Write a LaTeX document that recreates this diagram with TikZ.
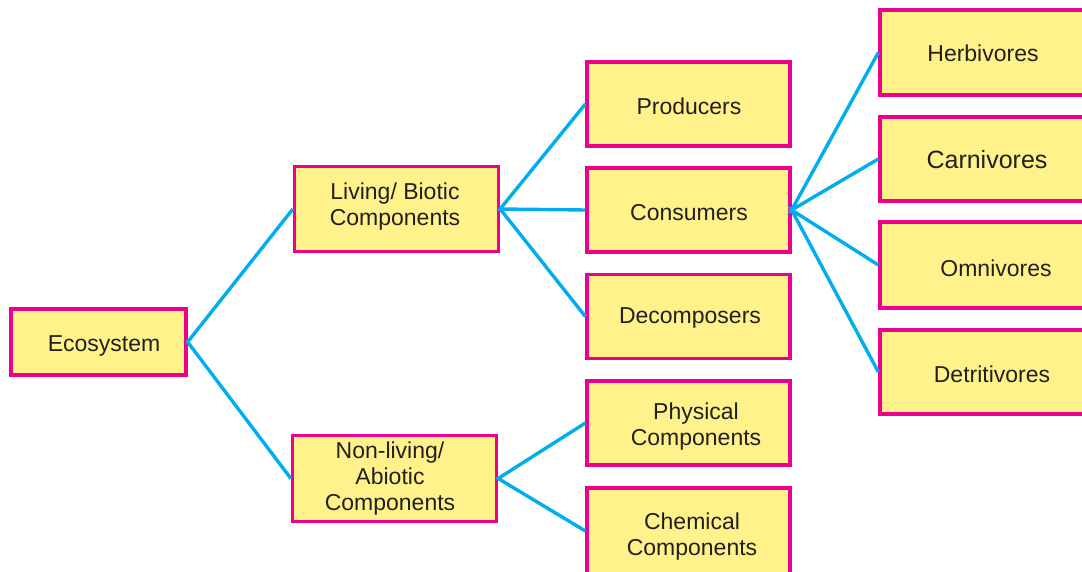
\documentclass[tikz,border=0pt]{standalone}
\usepackage{fontspec}
\setmainfont{Liberation Sans}
\definecolor{boxfill}{RGB}{255,242,138}
\definecolor{boxline}{RGB}{236,0,140}
\definecolor{wire}{RGB}{0,174,239}
\definecolor{txtc}{RGB}{35,31,32}
\tikzset{
  box/.style={draw=boxline, fill=boxfill, line width=3.3pt, inner sep=0pt},
  txt/.style={text=txtc, align=center, font=\fontsize{23}{26}\selectfont, inner sep=0pt},
  wireline/.style={draw=wire, line width=3.4pt}
}
\begin{document}
\begin{tikzpicture}[x=1pt,y=-1pt]
\useasboundingbox (0,0) rectangle (1082,572);
\clip (0,0) rectangle (1082,572);
% boxes: center (x,y), width, height
\node[box, minimum width=175pt, minimum height=66pt] (eco) at (98.5,342) {};
\node[box, minimum width=204pt, minimum height=85pt] (liv) at (396.5,209) {};
\node[box, minimum width=204pt, minimum height=86pt] (non) at (394.5,478.5) {};
\node[box, minimum width=203pt, minimum height=84pt] (pro) at (688.5,104) {};
\node[box, minimum width=203pt, minimum height=84pt] (con) at (688.5,210) {};
\node[box, minimum width=203pt, minimum height=84pt] (dec) at (688.5,316.5) {};
\node[box, minimum width=203pt, minimum height=84pt] (phy) at (688.5,423) {};
\node[box, minimum width=203pt, minimum height=86pt] (che) at (688.5,531) {};
\node[box, minimum width=212pt, minimum height=85pt] (her) at (986,52.5) {};
\node[box, minimum width=212pt, minimum height=84pt] (car) at (986,159) {};
\node[box, minimum width=212pt, minimum height=86pt] (omn) at (986,265) {};
\node[box, minimum width=212pt, minimum height=84pt] (det) at (986,372) {};
% texts
\node[txt] (teco) at (104,346) {Ecosystem};
\node[txt] (tliv) at (395,207) {Living/ Biotic\\Components};
\node[txt] (tnon) at (390,479) {Non-living/\\Abiotic\\Components};
\node[txt] (tpro) at (689,106) {Producers};
\node[txt] (tcon) at (689,213) {Consumers};
\node[txt] (tdec) at (690,318) {Decomposers};
\node[txt] (tphy) at (696,427) {Physical\\Components};
\node[txt] (tche) at (692,537) {Chemical\\Components};
\node[txt] (ther) at (983,53) {Herbivores};
\node[txt, font=\fontsize{25}{28}\selectfont] (tcar) at (987,160) {Carnivores};
\node[txt] (tomn) at (996,268) {Omnivores};
\node[txt] (tdet) at (992,374) {Detritivores};
% connectors
\draw[wireline] (liv.west) -- (eco.east) -- (non.west);
\draw[wireline] (pro.west) -- (liv.east) -- (con.west);
\draw[wireline] (liv.east) -- (dec.west);
\draw[wireline] (phy.west) -- (non.east) -- (che.west);
\draw[wireline] (her.west) -- (con.east) -- (car.west);
\draw[wireline] (omn.west) -- (con.east) -- (det.west);
\end{tikzpicture}
\end{document}
